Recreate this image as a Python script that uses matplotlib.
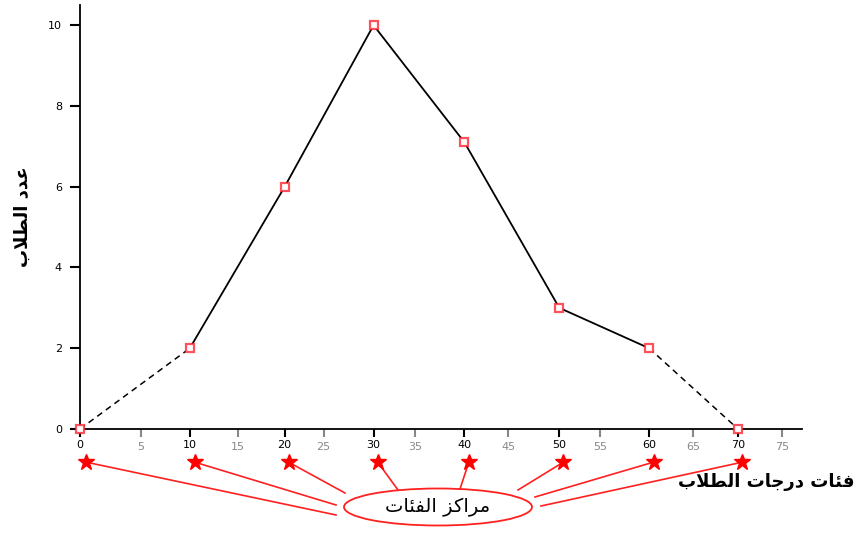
import matplotlib
matplotlib.use('Agg')
import matplotlib.pyplot as plt
import numpy as np
from matplotlib.patches import Ellipse

# class centers and number of students
centers = [0, 10, 20, 30, 40, 50, 60, 70]
students = [0, 2, 6, 10, 7.1, 3, 2, 0]
major_ticks = [0, 10, 20, 30, 40, 50, 60, 70]
minor_ticks = [5, 15, 25, 35, 45, 55, 65, 75]
y_ticks = [0, 2, 4, 6, 8, 10]

# arabic labels, written in shaped (presentation) form, visual order
x_label = 'ﺏﻼﻄﻟﺍ ﺕﺎﺟﺭﺩ ﺕﺎﺌﻓ'   # فئات درجات الطلاب
y_label = 'ﺏﻼﻄﻟﺍ ﺩﺪﻋ'          # عدد الطلاب
note = 'ﺕﺎﺌﻔﻟﺍ ﺰﻛﺍﺮﻣ'          # مراكز الفئات

# the hand drawn x axis is not evenly spaced: warp it like the original
warp_v = [-10, 0, 5, 10, 15, 20, 25, 30, 35, 40, 45, 50, 55, 60, 65, 70, 75, 90]
warp_p = [-94, 0, 61, 110, 158, 205, 244, 294, 336, 385, 429, 480, 521, 570, 614, 659, 703, 840]


def fwd(v):
    return np.interp(v, warp_v, warp_p)


def inv(p):
    return np.interp(p, warp_p, warp_v)


fig = plt.figure(figsize=(8.61, 5.33), dpi=100)
ax = fig.add_axes([0.0929, 0.1951, 0.8386, 0.7955])
ax.set_xscale('function', functions=(fwd, inv))

red = '#ff2020'
mk = dict(marker='s', markersize=5.5, markerfacecolor='white',
          markeredgecolor=(1, 0.15, 0.2, 0.8), markeredgewidth=1.6)

# dashed ends, solid middle
ax.plot(centers[:2], students[:2], color='black', lw=1.1, ls=(0, (4, 3)))
ax.plot(centers[-2:], students[-2:], color='black', lw=1.1, ls=(0, (4, 3)))
ax.plot(centers[1:-1], students[1:-1], color='black', lw=1.3)
ax.plot(centers, students, ls='none', clip_on=False, zorder=5, **mk)

ax.set_xlim(0, 77.2)
ax.set_ylim(0, 10.5)
for s in ['top', 'right']:
    ax.spines[s].set_visible(False)
for s in ['left', 'bottom']:
    ax.spines[s].set_linewidth(1.3)

ax.set_yticks(y_ticks)
ax.tick_params(axis='y', direction='out', length=7, width=1.5, labelsize=8, pad=6)
ax.set_xticks(major_ticks)
ax.set_xticks(minor_ticks, minor=True)
ax.set_xticklabels([str(t) for t in major_ticks])
ax.set_xticklabels([str(t) for t in minor_ticks], minor=True)
ax.tick_params(axis='x', which='major', direction='out', length=6, width=1.5,
               labelsize=8, pad=2)
ax.tick_params(axis='x', which='minor', direction='out', length=6, width=1.5,
               labelsize=8, pad=3, color='#888888', labelcolor='#888888')

ax.set_ylabel(y_label, fontsize=13, fontweight='bold', labelpad=12)
fig.text(0.993, 0.095, x_label, ha='right', va='center', fontsize=13,
         fontweight='bold')

# stars under the class centers
star_y = -0.82
star_dx = 0.5
ax.plot([c + star_dx for c in centers], [star_y] * len(centers), ls='none',
        marker='*', markersize=12, color='red', clip_on=False, zorder=6)

# ellipse with the note (drawn in pixels so the warp does not bend it)
flip = matplotlib.transforms.Affine2D().scale(1, -1).translate(0, 533)
ell = Ellipse((438, 507), 188, 37, facecolor='white', edgecolor=red, lw=1.3,
              zorder=4)
ell.set_transform(flip)
fig.add_artist(ell)
fig.text(438 / 861, 1 - 507 / 533, note, ha='center', va='center',
         fontsize=14, zorder=7)

# where each pointer line meets the ellipse (figure pixels)
line_ends = [(336, 515), (336, 505), (345, 493), (398, 490),
             (460, 489), (518, 490), (535, 497), (541, 506)]
to_data = ax.transData.inverted()
for c, (ex, ey) in zip(centers, line_ends):
    dx, dy = to_data.transform(flip.transform((ex, ey)))
    ax.plot([c + star_dx, dx], [star_y, dy], color=red, lw=1.2,
            clip_on=False, zorder=3)

fig.savefig('out.png', dpi=100)
